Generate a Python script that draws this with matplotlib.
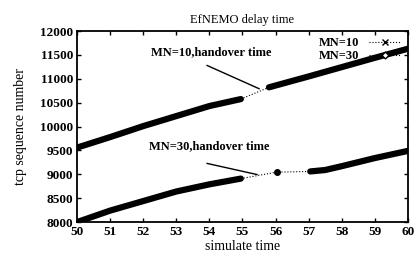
import matplotlib.pyplot as plt
from matplotlib.lines import Line2D

# MN=10: przed i po handoverze
mn10_before_t = [50, 51, 52, 53, 54, 54.95]
mn10_before_v = [9560, 9780, 10010, 10220, 10430, 10576]
mn10_after_t = [55.8, 56, 57, 58, 59, 60]
mn10_after_v = [10822, 10860, 11050, 11245, 11440, 11630]

# MN=30
mn30_before_t = [50, 51, 52, 53, 54, 54.95]
mn30_before_v = [8000, 8240, 8440, 8640, 8790, 8910]
mn30_mid_t = [56.03]
mn30_mid_v = [9045]
mn30_after_t = [57.05, 57.5, 58, 59, 60]
mn30_after_v = [9060, 9090, 9170, 9340, 9490]

xticks = list(range(50, 61))
yticks = list(range(8000, 12001, 500))

plt.rcParams['font.family'] = ['Liberation Serif', 'DejaVu Serif']
plt.rcParams['font.weight'] = 'bold'
plt.rcParams['font.size'] = 9

fig = plt.figure(figsize=(4.17, 2.57), dpi=100)
ax = fig.add_axes([0.185, 0.136, 0.793, 0.743])

# grube pasma danych
ax.plot(mn10_before_t, mn10_before_v, color='k', lw=4.5, solid_capstyle='round')
ax.plot(mn10_after_t, mn10_after_v, color='k', lw=4.5, solid_capstyle='round')
ax.plot(mn30_before_t, mn30_before_v, color='k', lw=4.5, solid_capstyle='round')
ax.plot(mn30_after_t, mn30_after_v, color='k', lw=4.5, solid_capstyle='round')

# kropkowane przerwy (handover)
ax.plot([mn10_before_t[-1], mn10_after_t[0]], [mn10_before_v[-1], mn10_after_v[0]],
        color='k', lw=0.8, ls=':')
gap_t = [mn30_before_t[-1]] + mn30_mid_t + [mn30_after_t[0]]
gap_v = [mn30_before_v[-1]] + mn30_mid_v + [mn30_after_v[0]]
ax.plot(gap_t, gap_v, color='k', lw=0.8, ls=':')
ax.plot(mn30_mid_t, mn30_mid_v, 'o', color='k', ms=4)

# opisy
ax.text(54.05, 11560, 'MN=10,handover time', ha='center', va='center', fontsize=9)
ax.plot([53.93, 55.5], [11280, 10794], color='k', lw=1)
ax.text(54.0, 9590, 'MN=30,handover time', ha='center', va='center', fontsize=9)
ax.plot([53.93, 55.44], [9228, 8995], color='k', lw=1)

handles = [Line2D([], [], color='k', ls=':', lw=0.8, marker='x', ms=4),
           Line2D([], [], color='k', ls=':', lw=0.8, marker='D', ms=3.5, mfc='white')]
ax.legend(handles, ['MN=10', 'MN=30'], loc='upper right', frameon=False,
          markerfirst=False, handlelength=2.6, borderaxespad=0,
          bbox_to_anchor=(0.995, 0.995), labelspacing=0.1, fontsize=9)

ax.set_xlim(50, 60)
ax.set_ylim(8000, 12000)
ax.set_xticks(xticks)
ax.set_yticks(yticks)
ax.tick_params(direction='in', top=True, right=True, length=3, width=1, labelsize=9.5, pad=3)
for s in ax.spines.values():
    s.set_linewidth(1.3)

ax.set_title('EfNEMO delay time', fontsize=9, pad=6)
ax.set_xlabel('simulate time', fontsize=10, labelpad=1)
ax.set_ylabel('tcp sequence number', fontsize=10, labelpad=9)

fig.savefig('out.png', dpi=100)
